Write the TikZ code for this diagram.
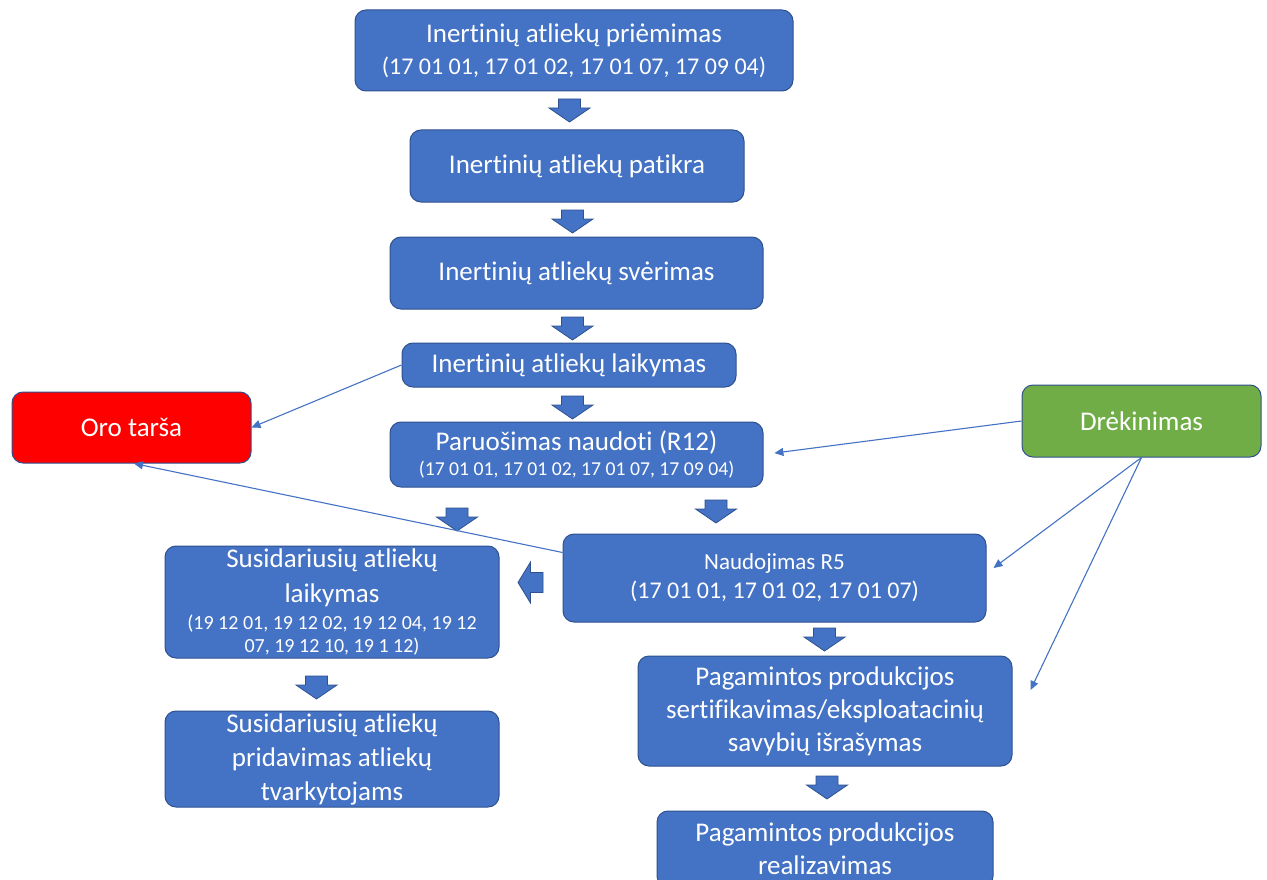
\documentclass[tikz,border=0pt]{standalone}
\usepackage{fontspec}
\setmainfont{Carlito}[Ligatures={NoCommon}]
\usetikzlibrary{arrows.meta,calc}
\definecolor{blu}{HTML}{4472C4}
\definecolor{bdr}{HTML}{2F528F}
\definecolor{redf}{HTML}{FF0000}
\definecolor{grn}{HTML}{70AD47}
\newcommand{\fsz}[2]{\fontsize{#1}{#2}\selectfont}
\begin{document}
\begin{tikzpicture}[x=1pt,y=-1pt,
  box/.style={draw=bdr, line width=1pt, fill=blu, rounded corners=11pt, text=white,
    align=center, inner sep=0pt, font=\fsz{27}{33}},
  conn/.style={draw=blu, line width=1.1pt, -{Triangle[length=9pt,width=8pt]}},
  darr/.pic={\filldraw[fill=blu,draw=bdr,line width=0.8pt] (-11,0) -- (11,0) -- (11,9) -- (20.5,9) -- (0,23) -- (-20.5,9) -- (-11,9) -- cycle;},
  larr/.pic={\filldraw[fill=blu,draw=bdr,line width=0.8pt] (12.5,-10) -- (0,-10) -- (0,-20.5) -- (-12.5,0) -- (0,20.5) -- (0,10) -- (12.5,10) -- cycle;}]
\clip (0,0) rectangle (1267,880);
\fill[white] (0,0) rectangle (1267,880);

\node[box, minimum width=438pt, minimum height=81pt, font=\fsz{27}{32}] (b1) at (574,50.5)
  {Inertinių atliekų priėmimas\\{\fsz{24}{32}(17 01 01, 17 01 02, 17 01 07, 17 09 04)}};
\node[box, minimum width=334pt, minimum height=72pt] (b2) at (577,166) {Inertinių atliekų patikra};
\node[box, minimum width=373pt, minimum height=72pt] (b3) at (576.5,273) {Inertinių atliekų svėrimas};
\node[box, minimum width=334pt, minimum height=44pt] (b4) at (569,365) {Inertinių atliekų laikymas};
\node[box, minimum width=373pt, minimum height=65pt, font=\fsz{27}{25}] (b5) at (576.5,454.5)
  {Paruošimas naudoti (R12)\\{\fsz{19.7}{25}(17 01 01, 17 01 02, 17 01 07, 17 09 04)}};
\node[box, fill=redf, minimum width=239pt, minimum height=71pt] (oro) at (131.5,427.5) {Oro tarša};
\node[box, fill=grn, minimum width=239pt, minimum height=72pt] (dre) at (1141.5,421) {Drėkinimas};
\node[box, minimum width=423pt, minimum height=88pt, font=\fsz{24}{29}] (nau) at (774.5,578)
  {{\fsz{23}{29}Naudojimas R5}\\(17 01 01, 17 01 02, 17 01 07)};
\node[box, minimum width=334pt, minimum height=112pt, font=\fsz{27}{23}] (s1) at (332,602)
  {Susidariusių atliekų\\[11pt]laikymas\\[4pt]{\fsz{20}{23}(19 12 01, 19 12 02, 19 12 04, 19 12}\\{\fsz{20}{23}07, 19 12 10, 19 1 12)}};
\node[box, minimum width=334pt, minimum height=96pt, font=\fsz{27}{34}] (s2) at (332,759)
  {Susidariusių atliekų\\pridavimas atliekų\\tvarkytojams};
\node[box, minimum width=374pt, minimum height=110pt] (p1) at (825,711)
  {Pagamintos produkcijos\\sertifikavimas/eksploatacinių\\savybių išrašymas};
\node[box, minimum width=336pt, minimum height=76pt] (p2) at (825,849)
  {Pagamintos produkcijos\\realizavimas};

\pic at (569.5,99) {darr};
\pic at (572.5,210) {darr};
\pic at (572.5,317) {darr};
\pic at (572.5,396) {darr};
\pic at (457,508) {darr};
\pic at (716,500) {darr};
\pic at (530.5,582.5) {larr};
\pic at (824.5,628) {darr};
\pic at (316.5,676) {darr};
\pic at (827,776) {darr};

\coordinate (naustart) at ($(nau.north west)+(0,19)$);
\coordinate (nauend) at ($(nau.east)+(7,-10)$);
\coordinate (p1end) at ($(p1.east)+(18,-21)$);
\draw[conn] (b4.west) -- (oro.east);
\draw[conn] (naustart) -- ($(oro.south)+(2.5,0)$);
\draw[conn, shorten >=11pt] (dre.west) -- (b5.east);
\draw[conn] (dre.south) -- (nauend);
\draw[conn] (dre.south) -- (p1end);
\end{tikzpicture}
\end{document}
